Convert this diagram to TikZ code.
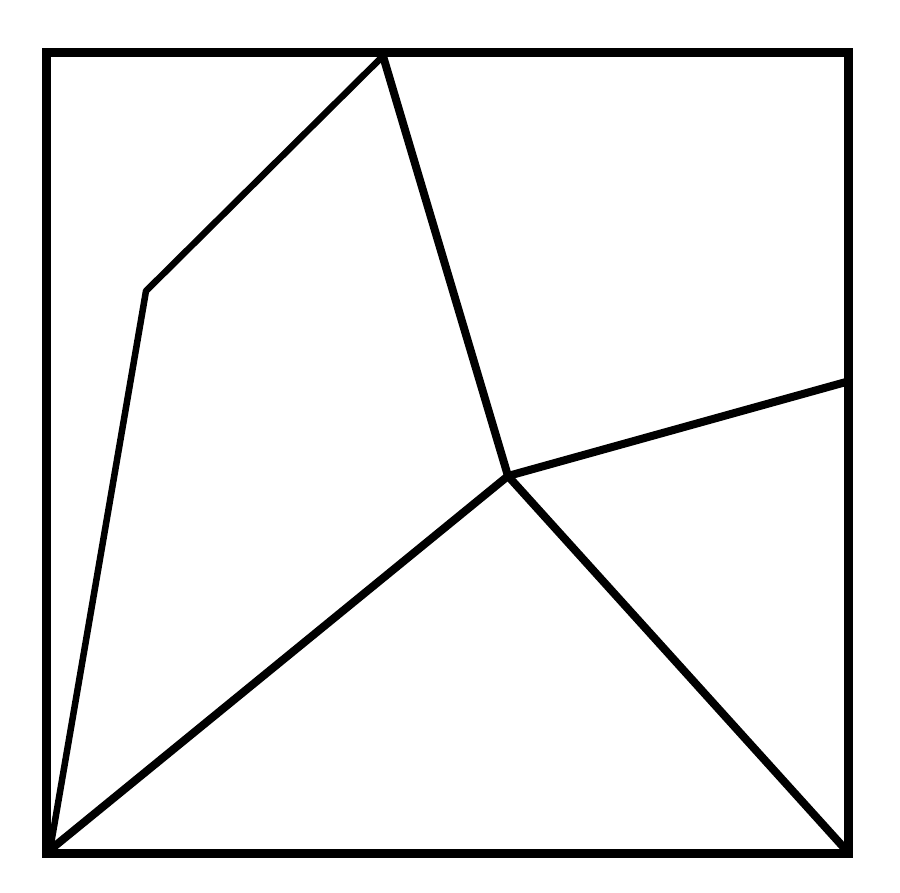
\documentclass[tikz,border=0pt]{standalone}
\begin{document}
\begin{tikzpicture}[x=1pt,y=-1pt,
  frame/.style={line width=9pt,line join=miter},
  edge/.style={line width=8pt,line join=round,line cap=round},
  thin/.style={line width=6.5pt,line join=round,line cap=round}]
\useasboundingbox (0,0) rectangle (900,893);
\fill[white] (0,0) rectangle (900,893);
\coordinate (TL) at (46.5,52.5);
\coordinate (BR) at (848,853);
\coordinate (A) at (383,56);
\coordinate (B) at (146,291);
\coordinate (C) at (50,850);
\coordinate (D) at (508,476);
\coordinate (E) at (846,382);
\coordinate (F) at (846,850);
\draw[frame] (TL) rectangle (BR);
\draw[thin] (C) -- (B) -- (A);
\draw[edge] (A) -- (D);
\draw[edge] (D) -- (E);
\draw[edge] (D) -- (C);
\draw[edge] (D) -- (F);
\end{tikzpicture}
\end{document}
